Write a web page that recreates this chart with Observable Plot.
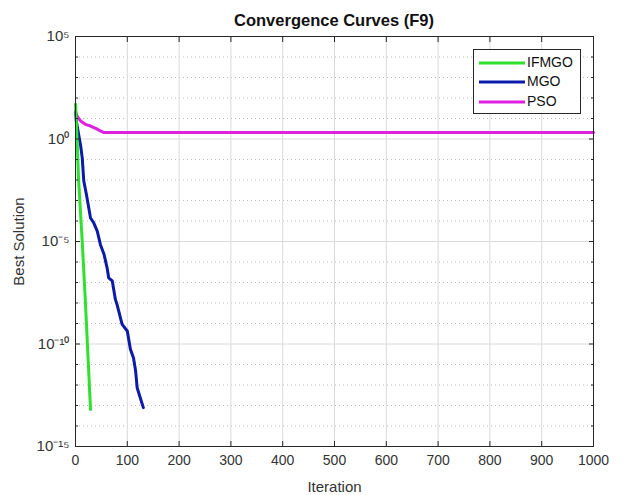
<!DOCTYPE html>
<html>
<head>
<meta charset="utf-8">
<script src="https://cdn.jsdelivr.net/npm/d3@7"></script>
<script src="https://cdn.jsdelivr.net/npm/@observablehq/plot@0.6"></script>
<style>
  body { margin: 0; background: #fff; font-family: "Liberation Sans", Arial, sans-serif; }
  #wrap { position: relative; width: 625px; height: 495px; }
  #title { height: 16px; line-height: 16px; text-align: center; font-weight: bold; font-size: 16.5px; color: #111;
           width: 518px; margin-left: 75px; padding-top: 12px; box-sizing: content-box; }
  #chart svg { display: block; }
  #legend { position: absolute; left: 473px; top: 49px; width: 106px; height: 63px; border: 1px solid #262626;
            background: #fff; font-size: 14px; color: #111; }
  #legend div { position: absolute; left: 4px; height: 18px; line-height: 18px; }
  #legend svg { vertical-align: middle; margin-right: 1px; }
</style>
</head>
<body>
<div id="wrap">
  <div id="title">Convergence Curves (F9)</div>
  <div id="chart"></div>
  <div id="legend"></div>
</div>
<script>
const seriesNames = ["IFMGO", "MGO", "PSO"];
const seriesColors = ["#2fe02f", "#0b1aa8", "#e020e0"];

const ifmgoIter = [0, 3, 6, 13, 19, 23, 29];
const ifmgoVal  = [50, 1, 1e-2, 1e-5, 1.3e-8, 1e-10, 6.3e-14];

const mgoIter = [0, 2, 6, 10, 13, 16, 21, 29, 35, 42, 48, 55, 61, 64, 71, 77, 80, 90, 100, 106, 112, 116, 119, 125, 131];
const mgoVal  = [20, 6.3, 1.7, 0.46, 0.12, 8.9e-3, 2e-3, 1.4e-4, 8.3e-5, 3.2e-5, 7.2e-6, 2.4e-6, 5.2e-7, 1.7e-7, 1.2e-7,
                 1.5e-8, 8.7e-9, 9.1e-10, 4.3e-10, 5.5e-11, 2.1e-11, 5e-12, 7.4e-13, 2.4e-13, 7.9e-14];

const psoIter = [0, 3, 10, 19, 29, 39, 48, 55, 1000];
const psoVal  = [23, 13, 7.5, 5.2, 4.3, 3.3, 2.5, 2.05, 2.05];

const xTicks = [0, 100, 200, 300, 400, 500, 600, 700, 800, 900, 1000];
const yMajor = [1e-15, 1e-10, 1e-5, 1e0, 1e5];
const yMinor = [1e-14, 1e-13, 1e-12, 1e-11, 1e-9, 1e-8, 1e-7, 1e-6, 1e-4, 1e-3, 1e-2, 1e-1, 1e1, 1e2, 1e3, 1e4];
const yExponents = ["\u207B\u00B9\u2075", "\u207B\u00B9\u2070", "\u207B\u2075", "\u2070", "\u2075"];

const toRows = (iter, val, name) => iter.map((x, i) => ({x, y: val[i], name}));
const data = [
  ...toRows(psoIter, psoVal, "PSO"),
  ...toRows(mgoIter, mgoVal, "MGO"),
  ...toRows(ifmgoIter, ifmgoVal, "IFMGO")
];

const yTickText = d => {
  let best = 0;
  yMajor.forEach((v, i) => { if (Math.abs(Math.log10(v) - Math.log10(d)) < 0.01) best = i; });
  return "10" + yExponents[best];
};

const axisColor = "#262626";
const blank = () => "";
const tickOnly = { tickFormat: blank, label: null, stroke: axisColor };
const chart = Plot.plot({
  width: 625,
  height: 467,
  marginLeft: 75,
  marginRight: 32,
  marginTop: 8,
  marginBottom: 49,
  style: { fontFamily: "Liberation Sans, Arial, sans-serif", fontSize: "13px", color: "#333", background: "#fff", overflow: "visible" },
  x: { domain: [0, 1000] },
  y: { type: "log", domain: [1e-15, 1e5] },
  color: { domain: seriesNames, range: seriesColors },
  marks: [
    Plot.gridY(yMinor, { stroke: "#bdbdbd", strokeOpacity: 1, strokeDasharray: "1,3" }),
    Plot.gridY(yMajor, { stroke: "#dadada", strokeOpacity: 1 }),
    Plot.gridX(xTicks, { stroke: "#dadada", strokeOpacity: 1 }),
    Plot.line(data, { x: "x", y: "y", z: "name", stroke: "name", strokeWidth: 3, strokeLinejoin: "round" }),
    Plot.frame({ stroke: axisColor, strokeWidth: 1 }),
    Plot.axisX(xTicks, { anchor: "bottom", tickSize: -5, ...tickOnly }),
    Plot.axisX(xTicks, { anchor: "top", tickSize: -5, ...tickOnly }),
    Plot.axisX(xTicks, { anchor: "bottom", tickSize: 0, tickPadding: 9, fill: "#333", fontSize: 14,
                         tickFormat: d => String(d), label: null }),
    Plot.axisX(xTicks, { anchor: "bottom", tickSize: 0, tickFormat: blank, fill: "#333", fontSize: 15,
                         label: "Iteration", labelAnchor: "center", labelArrow: "none", labelOffset: 45 }),
    Plot.axisY(yMinor, { anchor: "left", tickSize: -3, ...tickOnly }),
    Plot.axisY(yMajor, { anchor: "left", tickSize: -5, ...tickOnly }),
    Plot.axisY(yMinor, { anchor: "right", tickSize: -3, ...tickOnly }),
    Plot.axisY(yMajor, { anchor: "right", tickSize: -5, ...tickOnly }),
    Plot.axisY(yMajor, { anchor: "left", tickSize: 0, tickPadding: 6, fill: "#333", fontSize: 15,
                         tickFormat: yTickText, label: null }),
    Plot.axisY(yMajor, { anchor: "left", tickSize: 0, tickFormat: blank, fill: "#333", fontSize: 15,
                         label: "Best Solution", labelAnchor: "center", labelArrow: "none", labelOffset: 62 })
  ]
});
document.getElementById("chart").appendChild(chart);

const legend = document.getElementById("legend");
const tops = [3, 22, 42];
seriesNames.forEach((n, i) => {
  const d = document.createElement("div");
  d.style.top = tops[i] + "px";
  d.innerHTML = `<svg width="48" height="6"><line x1="1" x2="47" y1="3" y2="3" stroke="${seriesColors[i]}" stroke-width="3"/></svg>${n}`;
  legend.appendChild(d);
});
</script>
</body>
</html>
